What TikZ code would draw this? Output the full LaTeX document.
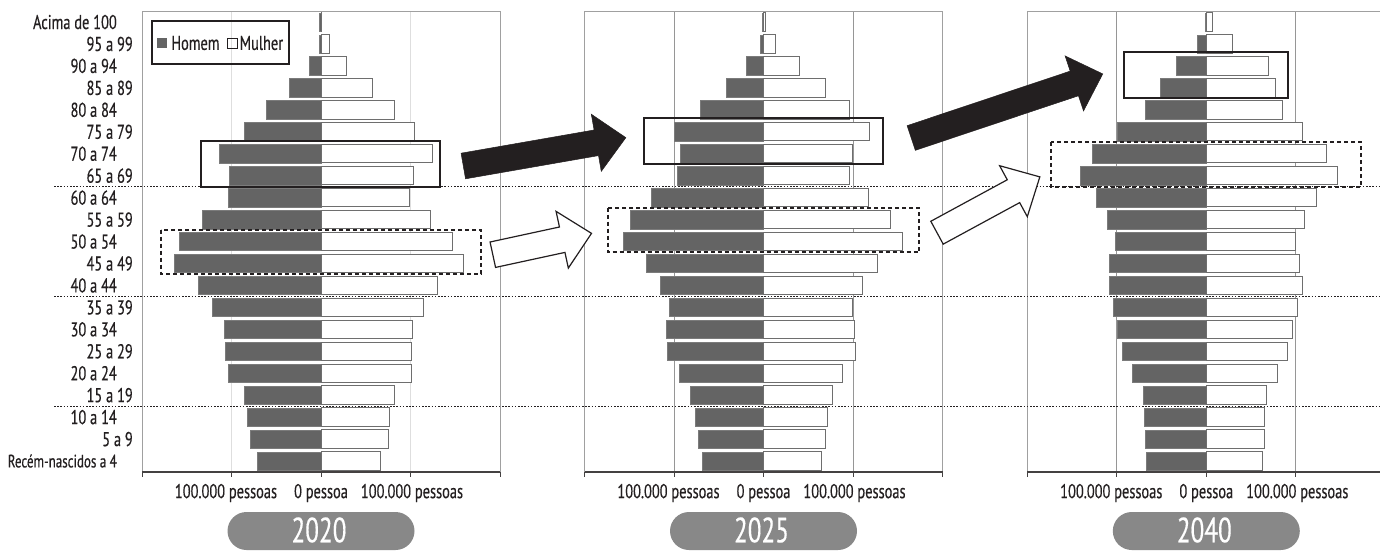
\documentclass[tikz,border=0pt]{standalone}
\usepackage{fontspec}
\setmainfont{PT Sans}[FakeStretch=0.72, FakeBold=0.4]
\usetikzlibrary{positioning}

\definecolor{barGray}{RGB}{100,100,100}
\definecolor{lineGray}{RGB}{110,110,110}
\definecolor{frameGray}{RGB}{160,160,160}
\definecolor{gridLight}{RGB}{222,222,222}
\definecolor{gridDark}{RGB}{150,150,150}
\definecolor{pillGray}{RGB}{136,136,136}
\definecolor{inkBlack}{RGB}{35,31,32}

\begin{document}
\begin{tikzpicture}[x=1pt, y=-1pt,
  font=\fontsize{20}{20}\selectfont, text=inkBlack,
  frame/.style={draw=frameGray, line width=1pt},
  axisline/.style={draw=inkBlack!85, line width=1.5pt},
  homem/.style={fill=barGray, draw=barGray!85!white, line width=0.5pt},
  mulher/.style={fill=white, draw=lineGray, line width=1pt},
  solidbox/.style={draw=inkBlack, line width=2pt},
  dashbox/.style={draw=inkBlack, line width=2pt, dash pattern=on 4pt off 3pt},
  agesep/.style={draw=inkBlack, line width=0.8pt, dash pattern=on 1.6pt off 1.6pt},
  fat/.style={fill=inkBlack, draw=inkBlack, line width=0.5pt},
  hollow/.style={fill=white, draw=inkBlack, line width=1.2pt},
  yearpill/.style={fill=pillGray, rounded corners=19pt},
  yeartext/.style={text=white, inner sep=0pt, font=\fontsize{35}{35}\selectfont}]

\useasboundingbox (0,0) rectangle (1380,550);

% Panel frames, grid, axis and labels
\foreach \cx/\gcol/\yr in {321/gridLight/2020, 763.5/gridDark/2025, 1206.3/gridDark/2040} {
  \begin{scope}[xshift=\cx]
    \draw[\gcol, line width=1pt] (-89.5,11) -- (-89.5,472);
    \draw[\gcol, line width=1pt] (89.5,11) -- (89.5,472);
    \draw[frame] (-179,11) rectangle (179,472);
    \draw[axisline] (-179,472) -- (179,472);
    \foreach \t in {-179,-89.5,0,89.5,179}
      \draw[axisline, line width=1pt] (\t,472) -- (\t,477);
    \node (ax\yr l) at (-95,493) {100.000 pessoas};
    \node (ax\yr c) at (0,493) {0 pessoa};
    \node (ax\yr r) at (91,493) {100.000 pessoas};
    \fill[yearpill] (-93.5,512) rectangle (93.5,550);
    \node[yeartext] (yr\yr) at (-2,530) {\yr};
  \end{scope}
}

% Age group separators
\draw[agesep] (54,186.6) -- (1380,186.6);
\draw[agesep] (54,296.4) -- (1380,296.4);
\draw[agesep] (54,406.2) -- (1380,406.2);

% Age labels
\foreach \i/\txt in {0/{\fontsize{18}{18}\selectfont Recém-nascidos a 4}, 1/5 a 9,
    2/10 a 14, 3/15 a 19, 4/20 a 24, 5/25 a 29, 6/30 a 34, 7/35 a 39, 8/40 a 44,
    9/45 a 49, 10/50 a 54, 11/55 a 59, 12/60 a 64, 13/65 a 69, 14/70 a 74,
    15/75 a 79, 16/80 a 84, 17/85 a 89, 18/90 a 94, 19/95 a 99, 20/Acima de 100} {
  \pgfmathsetmacro\yc{472-(\i+0.5)*21.95}
  \pgfmathsetmacro\xr{117+16*mod(\i,2)}
  \node[anchor=east, inner sep=0pt] (age\i) at (\xr,\yc) {\txt};
}

% 2020 (thousands of people: men/women)
\begin{scope}[xshift=321]
\foreach \i/\m/\f in {0/71/67, 1/79/75, 2/82/77, 3/86/82, 4/104/101, 5/107/101,
    6/108/102, 7/121/115, 8/137/130, 9/164/159, 10/158/147, 11/133/122, 12/104/99,
    13/102/103, 14/114/125, 15/86/105, 16/61/82, 17/35/58, 18/13/28, 19/2/9, 20/2/1} {
  \pgfmathsetmacro\yc{472-(\i+0.5)*21.95}
  \draw[homem] ({-\m*0.895},{\yc-9.2}) rectangle (0,{\yc+9.2});
  \draw[mulher] (0,{\yc-9.2}) rectangle ({\f*0.895},{\yc+9.2});
}
\draw[solidbox] (-120,141) rectangle (119,187);
\draw[dashbox] (-160,229.5) rectangle (160,273.5);
\end{scope}

% 2025
\begin{scope}[xshift=763.5]
\foreach \i/\m/\f in {0/69/65, 1/73/69, 2/76/72, 3/82/77, 4/94/88, 5/108/103,
    6/109/102, 7/105/99, 8/115/111, 9/131/127, 10/157/155, 11/149/142, 12/125/117,
    13/96/96, 14/93/99, 15/100/118, 16/71/96, 17/42/69, 18/19/40, 19/4/13, 20/1/2} {
  \pgfmathsetmacro\yc{472-(\i+0.5)*21.95}
  \draw[homem] ({-\m*0.895},{\yc-9.2}) rectangle (0,{\yc+9.2});
  \draw[mulher] (0,{\yc-9.2}) rectangle ({\f*0.895},{\yc+9.2});
}
\draw[solidbox] (-119.5,117.5) rectangle (119.5,164);
\draw[dashbox] (-155.5,207.5) rectangle (155.5,252);
\end{scope}

% 2040
\begin{scope}[xshift=1206.3]
\foreach \i/\m/\f in {0/67/63, 1/68/65, 2/69/65, 3/71/67, 4/83/79, 5/94/91,
    6/100/96, 7/104/102, 8/109/108, 9/108/104, 10/102/100, 11/111/110, 12/123/123,
    13/141/147, 14/127/134, 15/100/108, 16/68/85, 17/51/77, 18/34/70, 19/10/29, 20/1/7} {
  \pgfmathsetmacro\yc{472-(\i+0.5)*21.95}
  \draw[homem] ({-\m*0.895},{\yc-9.2}) rectangle (0,{\yc+9.2});
  \draw[mulher] (0,{\yc-9.2}) rectangle ({\f*0.895},{\yc+9.2});
}
\draw[solidbox] (-82.5,51.5) rectangle (82,98);
\draw[dashbox] (-155.5,142) rectangle (155,186.5);
\end{scope}

% Legend
\draw[inkBlack, line width=1.3pt] (152,21) rectangle (289,64);
\node[fill=barGray, minimum size=10pt, inner sep=0pt] (keyH) at (162,43) {};
\node[right=4pt of keyH, inner sep=0pt] (txtH) {Homem};
\node[draw=inkBlack, line width=0.8pt, minimum size=10pt, inner sep=0pt, right=7pt of txtH] (keyM) {};
\node[right=2pt of keyM, inner sep=0pt] (txtM) {Mulher};

% Shift arrows (tail x / tail y / angle / length / style)
\foreach \tx/\ty/\ang/\len/\sty in {463.3/166/9.9/165/fat, 492.8/254.7/12.2/101/hollow,
    911.2/138/18.5/202/fat, 937/232.7/28.5/117/hollow} {
  \draw[\sty, shift={(\tx,\ty)}, rotate=\ang]
    (0,-13) -- ({\len-30},-13) -- ({\len-30},-29) -- (\len,0)
    -- ({\len-30},29) -- ({\len-30},13) -- (0,13) -- cycle;
}

\end{tikzpicture}
\end{document}
